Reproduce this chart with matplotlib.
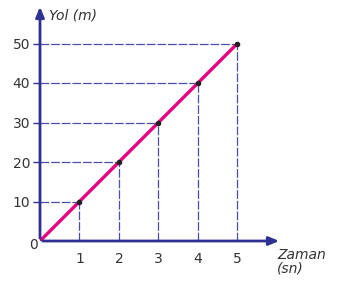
import matplotlib.pyplot as plt

times = [0, 1, 2, 3, 4, 5]
distances = [0, 10, 20, 30, 40, 50]
x_ticks = [1, 2, 3, 4, 5]
y_ticks = [10, 20, 30, 40, 50]

axis_color = "#2e3192"
grid_color = "#4a4fa8"
line_color = "#e6007e"

fig = plt.figure(figsize=(3.51, 2.87), dpi=100)
ax = fig.add_axes([40 / 351, 46 / 287, 242 / 351, 237 / 287])
ax.set_xlim(0, 6.13)
ax.set_ylim(0, 60)

for s in ax.spines.values():
    s.set_visible(False)

# dashed guide lines
for t, d in zip(times[1:], distances[1:]):
    ax.plot([0, t], [d, d], color=grid_color, lw=0.9, ls=(0, (7, 1.5)))
    ax.plot([t, t], [0, d], color=grid_color, lw=0.9, ls=(0, (7, 1.5)))

ax.plot(times, distances, color=line_color, lw=2.4, solid_capstyle="butt", zorder=3)
ax.scatter(times[1:], distances[1:], s=9, color="#222222", zorder=4)

# axes with arrows
ax.annotate("", xy=(6.13, 0), xytext=(0, 0),
            arrowprops=dict(arrowstyle="-|>,head_length=0.6,head_width=0.25",
                            color=axis_color, lw=2), annotation_clip=False)
ax.annotate("", xy=(0, 60), xytext=(0, 0),
            arrowprops=dict(arrowstyle="-|>,head_length=0.6,head_width=0.25",
                            color=axis_color, lw=2), annotation_clip=False)

ax.set_xticks(x_ticks)
ax.set_yticks(y_ticks)
ax.tick_params(axis="x", length=0, pad=8, labelsize=10, labelcolor="#333333")
ax.tick_params(axis="y", length=5, width=1, color=axis_color, direction="out",
               pad=2, labelsize=10, labelcolor="#333333")

ax.text(-0.05, -0.9, "0", ha="right", va="center", fontsize=10, color="#333333")
ax.text(0.22, 57.2, "Yol (m)", ha="left", va="center", fontsize=10,
        style="italic", color="#333333")
ax.text(6.0, -1.8, "Zaman\n(sn)", ha="left", va="top", fontsize=10,
        style="italic", color="#333333", linespacing=0.9)

fig.savefig("out.png", dpi=100)
